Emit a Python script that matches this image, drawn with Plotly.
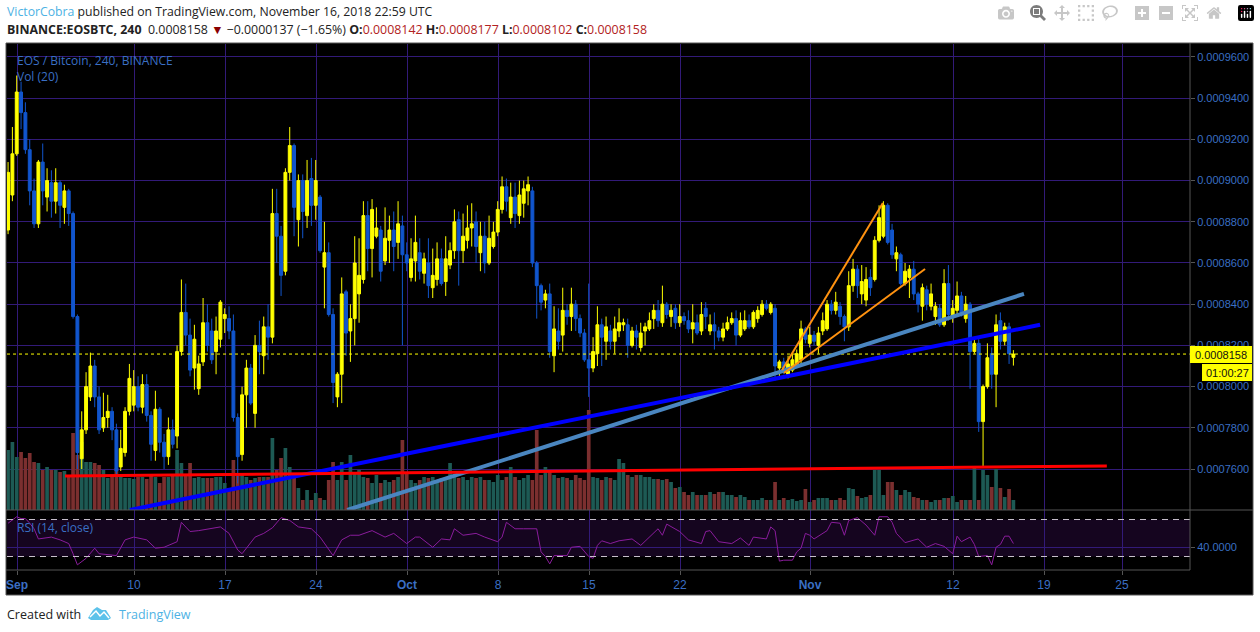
import pandas as pd
import plotly.graph_objects as go

W, H = 1260, 632

# Prices are in units of 0.0000001 BTC
opens = [8760,8930,9130,9430,9330,9150,8950,8790,9090,8920,8990,8900,8990,8870,8950,8840,8340,7650,7790,7950,
 8100,7950,7800,7850,7880,7790,7610,7680,7880,7910,8000,7900,8010,7860,7690,7890,7730,7660,7790,7760,
 8170,8360,8250,8090,7990,8120,8310,8270,8170,8230,8330,8330,8270,7850,7670,7960,8090,7870,8200,8150,
 8290,8240,8840,8730,8560,9040,9170,8810,9000,8830,9010,8880,8920,8580,8650,8350,7950,8060,8460,8270,
 8330,8450,8520,8830,8670,8730,8760,8610,8710,8760,8700,8780,8640,8530,8610,8650,8550,8600,8480,8520,
 8620,8510,8590,8660,8810,8660,8710,8770,8800,8650,8730,8600,8680,8750,8860,8970,8820,8920,8830,8890,
 8950,8950,8600,8490,8420,8450,8150,8270,8250,8370,8340,8400,8330,8260,8130,8090,8160,8300,8220,8270,
 8220,8270,8300,8300,8200,8270,8190,8270,8280,8330,8370,8310,8400,8340,8380,8310,8340,8320,8280,8310,
 8270,8380,8270,8300,8270,8240,8280,8310,8330,8250,8280,8320,8290,8330,8350,8400,8360,8380,8090,8120,
 8060,8080,8110,8130,8280,8210,8250,8200,8270,8280,8400,8370,8390,8340,8290,8490,8570,8450,8420,8530,
 8520,8710,8730,8880,8760,8620,8640,8500,8530,8570,8450,8390,8470,8390,8340,8380,8300,8500,8340,8370,
 8440,8330,8400,8170,8210,7830,8000,8160,8060,8320,8220,8290,8142]
highs = [9090,9260,9510,9480,9380,9200,9010,9100,9180,9060,9050,9060,9000,8980,8960,8850,8350,7880,8070,8165,
 8130,8000,7970,7960,7900,7820,7790,7900,8110,8080,8050,8060,8060,7880,7980,7900,7770,7850,7840,8200,
 8520,8500,8330,8300,8150,8430,8400,8330,8340,8420,8380,8390,8350,7870,8000,8130,8110,8250,8320,8340,
 8400,8960,8960,8780,9060,9260,9180,9030,9030,9100,9110,9100,8930,8800,8700,8380,8070,8530,8470,8400,
 8730,8720,8900,8900,8910,8870,8780,8870,8830,8850,8900,8830,8700,8720,8830,8720,8650,8720,8670,8700,
 8670,8730,8700,8860,8850,8840,8880,8890,8850,8800,8800,8830,8800,8900,9020,9010,8990,8990,9000,9000,
 9020,8970,8610,8500,8470,8500,8390,8380,8480,8400,8480,8420,8350,8280,8500,8240,8390,8330,8340,8300,
 8340,8380,8330,8330,8290,8300,8310,8310,8360,8400,8420,8490,8410,8400,8400,8400,8360,8370,8400,8350,
 8410,8410,8350,8360,8290,8310,8340,8360,8370,8360,8370,8350,8370,8390,8420,8420,8410,8400,8130,8140,
 8150,8160,8180,8320,8290,8290,8270,8290,8360,8420,8420,8460,8410,8350,8560,8620,8590,8590,8580,8570,
 8730,8880,8900,8890,8790,8680,8650,8600,8590,8610,8460,8500,8490,8500,8410,8400,8570,8590,8420,8510,
 8460,8440,8410,8240,8230,8010,8210,8190,8350,8360,8310,8310,8177]
lows = [8740,8900,9120,9250,9130,8880,8770,8770,8880,8850,8820,8840,8770,8790,8780,8330,7600,7600,7770,7930,
 7900,7770,7780,7800,7740,7560,7590,7660,7860,7880,7880,7870,7830,7640,7640,7680,7600,7620,7700,7700,
 8150,8200,8050,7985,7960,8100,8170,8110,8060,8190,8260,8230,7830,7530,7640,7800,7910,7800,8060,8060,
 8130,8210,8600,8440,8540,9000,8730,8680,8720,8770,8780,8810,8650,8380,8340,7920,7900,7920,8150,8120,
 8200,8310,8500,8560,8530,8720,8510,8590,8600,8560,8620,8200,8560,8510,8510,8520,8500,8430,8430,8490,
 8490,8440,8570,8620,8490,8600,8670,8680,8600,8560,8550,8590,8670,8730,8840,8850,8790,8770,8790,8820,
 8880,8580,8330,8370,8380,8140,8070,8180,8170,8300,8270,8270,8240,8120,7950,8070,8100,8100,8130,8180,
 8160,8240,8270,8140,8190,8180,8170,8200,8270,8280,8290,8290,8330,8290,8280,8290,8300,8260,8210,8250,
 8250,8280,8250,8180,8220,8220,8270,8300,8200,8240,8270,8280,8280,8310,8340,8370,8350,8030,8050,8060,
 8040,8070,8090,8110,8210,8190,8200,8160,8250,8270,8350,8350,8300,8220,8270,8460,8430,8400,8390,8440,
 8510,8700,8720,8690,8620,8560,8490,8490,8430,8420,8360,8320,8370,8370,8300,8290,8290,8320,8310,8350,
 8340,8310,7990,8160,7780,7610,7990,7990,7900,8180,8200,8110,8102]
closes = [9040,9130,9430,9330,9150,8950,8790,9090,8950,9000,8900,8990,8880,8950,8840,8340,7680,7790,8000,8100,
 7950,7790,7850,7880,7790,7590,7700,7880,8040,8000,7900,8010,7860,7720,7890,7730,7660,7790,7720,8170,
 8360,8250,8080,8230,8110,8310,8200,8130,8270,8410,8350,8270,7850,7660,7960,8090,7920,8200,8170,8290,
 8240,8840,8730,8540,9040,9170,8870,9000,8850,9000,8880,9000,8660,8650,8350,8020,8060,8450,8260,8330,
 8600,8540,8830,8670,8860,8770,8560,8720,8760,8680,8790,8640,8600,8620,8700,8560,8620,8490,8540,8620,
 8500,8620,8660,8800,8660,8730,8770,8790,8680,8730,8600,8720,8750,8860,8970,8900,8920,8840,8930,8960,
 8980,8600,8490,8410,8450,8170,8280,8220,8370,8340,8400,8330,8260,8130,8090,8170,8300,8240,8290,8220,
 8280,8310,8310,8200,8270,8240,8260,8290,8320,8370,8320,8400,8350,8370,8310,8340,8320,8280,8310,8260,
 8350,8340,8300,8270,8240,8280,8310,8330,8250,8320,8320,8290,8360,8370,8400,8380,8400,8100,8120,8090,
 8110,8130,8160,8280,8230,8250,8220,8260,8320,8400,8370,8410,8340,8290,8490,8570,8490,8510,8520,8480,
 8710,8820,8880,8700,8640,8650,8500,8560,8570,8450,8400,8480,8400,8450,8390,8300,8500,8350,8380,8440,
 8360,8400,8170,8210,7830,8000,8140,8060,8300,8220,8290,8160,8158]

# Volume bar heights, arbitrary units, one per candle
volume = [60,68,53,58,52,57,48,47,40,43,40,40,38,39,35,77,55,68,48,48,47,45,40,32,33,42,33,32,32,31,33,33,31,35,33,
 27,33,33,35,60,47,35,47,32,33,32,32,32,33,33,27,22,50,35,35,33,30,32,33,33,33,72,40,52,62,43,32,22,10,20,10,17,12,10,
 30,48,30,48,30,55,37,40,33,32,27,35,27,30,28,30,33,70,37,30,27,
 30,33,32,33,30,32,33,47,35,32,33,30,33,32,33,30,30,28,35,30,33,43,33,30,32,35,30,80,35,43,40,35,32,33,32,30,35,32,30,
 100,33,32,30,33,32,30,51,47,35,33,35,35,33,33,31,31,30,31,28,22,23,18,15,18,15,15,15,18,16,18,18,15,15,13,15,13,10,10,10,
 12,10,10,28,10,12,10,11,9,10,21,8,10,12,12,12,10,10,12,10,22,21,14,12,13,15,40,40,15,28,28,20,15,20,18,13,12,10,10,8,
 10,10,12,12,14,8,10,10,10,42,10,40,35,23,41,22,13,21,10]

rsi_bars = [0,1,2,3,4,5,6,7,10,12,14,15,16,18,20,21,24,25,27,29,32,34,36,39,40,42,44,47,49,51,53,54,57,59,61,63,65,67,70,72,75,77,79,81,84,87,89,92,94,
 95,98,100,102,103,105,108,110,113,114,115,117,119,122,123,124,125,126,129,130,132,134,135,136,137,139,141,144,146,148,150,151,152,155,157,160,161,162,164,167,169,171,172,175,176,177,
 178,179,181,182,183,184,185,186,189,190,192,193,194,196,198,200,201,203,204,205,207,210,212,214,216,218,219,220,222,223,224,226,227,228,229,230,231,232]
rsi_vals = [66,70,73,71,71,66,60,49,51,48,44,33,21,28,39,33,31,31,48,51,48,39,40,46,67,57,58,60,62,55,37,33,51,55,61,72,69,62,60,51,31,48,53,53,58,51,55,44,51,
 51,40,49,48,60,53,55,51,46,51,67,60,60,60,35,30,22,31,31,40,41,30,28,42,47,44,47,49,42,51,60,53,65,57,48,44,57,58,46,44,50,42,51,49,62,58,
 25,26,26,35,39,55,53,49,58,67,66,53,69,72,64,53,73,73,67,55,45,49,40,44,41,33,52,46,51,43,30,31,21,40,43,52,52,44]

tick_dates = ["2018-09-01","2018-09-10","2018-09-17","2018-09-24","2018-10-01","2018-10-08","2018-10-15",
              "2018-10-22","2018-11-01","2018-11-12","2018-11-19","2018-11-25"]
tick_labels = ["<b>Sep</b>","10","17","24","<b>Oct</b>","8","15","22","<b>Nov</b>","12","19","25"]
price_ticks = [7600,7800,8000,8200,8400,8600,8800,9000,9200,9400,9600]

red_x = ["2018-09-04 16:36","2018-11-23 20:00"]; red_y = [7566,7615]
blue_x = ["2018-09-09 16:34","2018-11-18 16:48"]; blue_y = [7401,8300]
steel_x = ["2018-09-26 09:36","2018-11-17 11:00"]; steel_y = [7401,8450]
orange1_x = ["2018-10-29 20:24","2018-11-06 14:30"]; orange1_y = [8081,8891]
orange2_x = ["2018-10-30 00:00","2018-11-09 20:24"]; orange2_y = [8066,8571]
last_x = ["2018-08-31 05:32","2018-11-30 05:32"]; last_y = [8158,8158]

UNIT = 1e-7
def px(v): return [a * UNIT for a in v]

START = "2018-08-31 07:30"
dates = pd.date_range(START, periods=len(opens), freq="8h")
vol_dates = pd.date_range(START, periods=len(volume), freq="8h")
vol_colors = []
for i in range(len(volume)):
    j = min(i, len(opens) - 1)
    vol_colors.append("#1d5a54" if closes[j] >= opens[j] else "#7b2f2f")

fx = lambda p: p / W
fy = lambda p: 1 - p / H

fig = go.Figure()
fig.add_trace(go.Bar(x=vol_dates, y=volume, marker=dict(color=vol_colors, line_width=0), xaxis="x", yaxis="y"))
fig.add_trace(go.Candlestick(x=dates, open=px(opens), high=px(highs), low=px(lows), close=px(closes),
    increasing=dict(line=dict(color="#ffff00", width=1), fillcolor="#ffff00"),
    decreasing=dict(line=dict(color="#1155cc", width=1), fillcolor="#1155cc"),
    xaxis="x", yaxis="y2", whiskerwidth=0))
def seg(x, y, color, width, dash="solid"):
    fig.add_trace(go.Scatter(x=x, y=px(y), mode="lines", line=dict(color=color, width=width, dash=dash),
                             xaxis="x", yaxis="y2", cliponaxis=True))
seg(last_x, last_y, "#ffff00", 1, "dot")
seg(steel_x, steel_y, "#4a86c0", 4)
seg(blue_x, blue_y, "#0000ff", 4)
seg(red_x, red_y, "#ff0000", 3)
seg(orange1_x, orange1_y, "#ff9210", 2)
seg(orange2_x, orange2_y, "#ff9210", 2)
fig.add_trace(go.Scatter(x=[dates[i] for i in rsi_bars], y=rsi_vals, mode="lines",
                         line=dict(color="#8a1c9c", width=1), xaxis="x2", yaxis="y3"))

GRID = "#321a78"
AX = "#555555"
TXT = "#3a6fc4"
XRANGE = ["2018-08-31 05:32", "2018-11-30 05:32"]
XDOM = [fx(7), fx(1190)]
FONT = "Liberation Sans"

shapes = [
    dict(type="rect", xref="paper", yref="paper", x0=fx(6), x1=fx(1253), y0=fy(595), y1=fy(43),
         fillcolor="#000000", line=dict(color=AX, width=1), layer="below"),
    dict(type="rect", xref="x2 domain", yref="y3", x0=0, x1=1, y0=30, y1=70,
         fillcolor="#15051f", line_width=0, layer="below"),
    dict(type="line", xref="x2 domain", yref="y3", x0=0, x1=1, y0=70, y1=70,
         line=dict(color="#c8c0cc", width=1, dash="6px,5px")),
    dict(type="line", xref="x2 domain", yref="y3", x0=0, x1=1, y0=30, y1=30,
         line=dict(color="#c8c0cc", width=1, dash="6px,5px")),
    dict(type="line", xref="paper", yref="paper", x0=fx(6), x1=fx(1253), y0=fy(510), y1=fy(510), line=dict(color=AX, width=1)),
    dict(type="line", xref="paper", yref="paper", x0=fx(6), x1=fx(1190), y0=fy(570), y1=fy(570), line=dict(color=AX, width=1)),
    dict(type="line", xref="paper", yref="paper", x0=fx(1190), x1=fx(1190), y0=fy(570), y1=fy(43), line=dict(color=AX, width=1)),
    dict(type="rect", xref="paper", yref="paper", x0=fx(1190), x1=fx(1252), y0=fy(363), y1=fy(346), fillcolor="#ffff00", line_width=0),
    dict(type="rect", xref="paper", yref="paper", x0=fx(1202), x1=fx(1252), y0=fy(381), y1=fy(364), fillcolor="#ffff00", line_width=0),
]
def poly(points, fill=None, line=None):
    path = "M " + " L ".join(f"{fx(a)} {fy(b)}" for a, b in points) + (" Z" if fill else "")
    d = dict(type="path", xref="paper", yref="paper", path=path)
    if fill:
        d.update(fillcolor=fill, line_width=0)
    else:
        d.update(line=dict(color=line, width=1.5))
    return d
shapes.append(poly([(88,618),(93,610),(97,607),(102,610),(106,610),(111,618),(108,620),(91,620)], fill="#5cc2ea"))
shapes.append(poly([(90,617),(96,611),(100,616),(104,612),(109,618)], line="#ffffff"))

def note(x, y, text, size=12, color="#222222", anchor="left", family="Open Sans"):
    return dict(xref="paper", yref="paper", x=fx(x), y=fy(y), text=text, showarrow=False, xanchor=anchor,
                yanchor="middle", font=dict(family=family, size=size, color=color), align="left")
RED = "#b22222"
annotations = [
    note(5, 12, "<span style='color:#4db2e4'>VictorCobra</span> published on TradingView.com, November 16, 2018 22:59 UTC", 12.25),
    note(5, 29, f"<b>BINANCE:EOSBTC, 240</b>&nbsp; 0.0008158 <span style='color:#8b0000'>▼</span> −0.0000137 (−1.65%) "
                f"<b>O:</b><span style='color:{RED}'>0.0008142</span> <b>H:</b><span style='color:{RED}'>0.0008177</span> "
                f"<b>L:</b><span style='color:{RED}'>0.0008102</span> <b>C:</b><span style='color:{RED}'>0.0008158</span>", 12.4),
    note(15, 60, "EOS / Bitcoin, 240, BINANCE", 12, TXT),
    note(15, 77, "Vol (20)", 12, TXT),
    note(15, 527, "RSI (14, close)", 12, TXT),
    note(1221, 354.5, "0.0008158", 11, "#111111", "center", FONT),
    note(1227, 372.5, "01:00:27", 11, "#111111", "center", FONT),
    note(5, 614, "Created with", 12.5),
    note(117, 614, "TradingView", 12.5, "#4db2e4"),
]

fig.update_layout(
    width=W, height=H, margin=dict(l=0, r=0, t=0, b=0), autosize=False,
    paper_bgcolor="#ffffff", plot_bgcolor="#000000", showlegend=False, bargap=0.15, boxgap=0.05,
    shapes=shapes, annotations=annotations, hovermode=False,
    xaxis=dict(domain=XDOM, anchor="y", range=XRANGE, type="date", tickvals=tick_dates, showticklabels=False,
               ticks="", showgrid=True, gridcolor=GRID, gridwidth=1, zeroline=False, showline=False,
               rangeslider=dict(visible=False)),
    xaxis2=dict(domain=XDOM, anchor="y3", range=XRANGE, type="date", tickvals=tick_dates, ticktext=tick_labels,
                ticks="outside", ticklen=4, tickcolor=AX, showgrid=True, gridcolor=GRID, gridwidth=1, zeroline=False,
                showline=False, tickfont=dict(family=FONT, size=12, color=TXT), tickangle=0),
    yaxis=dict(domain=[fy(510), fy(44)], anchor="x", range=[0, 466], showgrid=False, showticklabels=False,
               ticks="", zeroline=False, showline=False),
    yaxis2=dict(domain=[fy(510), fy(44)], overlaying="y", anchor="x", side="right",
                range=[7401 * UNIT, 9663 * UNIT], tickvals=px(price_ticks), tickformat=".7f",
                ticks="outside", ticklen=4, tickcolor=AX, showgrid=True, gridcolor=GRID, gridwidth=1,
                zeroline=False, showline=False, tickfont=dict(family=FONT, size=11, color=TXT)),
    yaxis3=dict(domain=[fy(570), fy(510)], anchor="x2", side="right", range=[15.4, 80.3], tickvals=[40],
                tickformat=".4f", ticks="outside", ticklen=4, tickcolor=AX, showgrid=True, gridcolor=GRID,
                gridwidth=1, zeroline=False, showline=False, tickfont=dict(family=FONT, size=11, color=TXT)),
)
assert len(opens) == len(highs) == len(lows) == len(closes), (len(opens), len(highs), len(lows), len(closes))
assert len(rsi_bars) == len(rsi_vals), (len(rsi_bars), len(rsi_vals))
fig.write_html("out.html", post_script="document.body.style.margin='0';document.documentElement.style.overflow='hidden';")
